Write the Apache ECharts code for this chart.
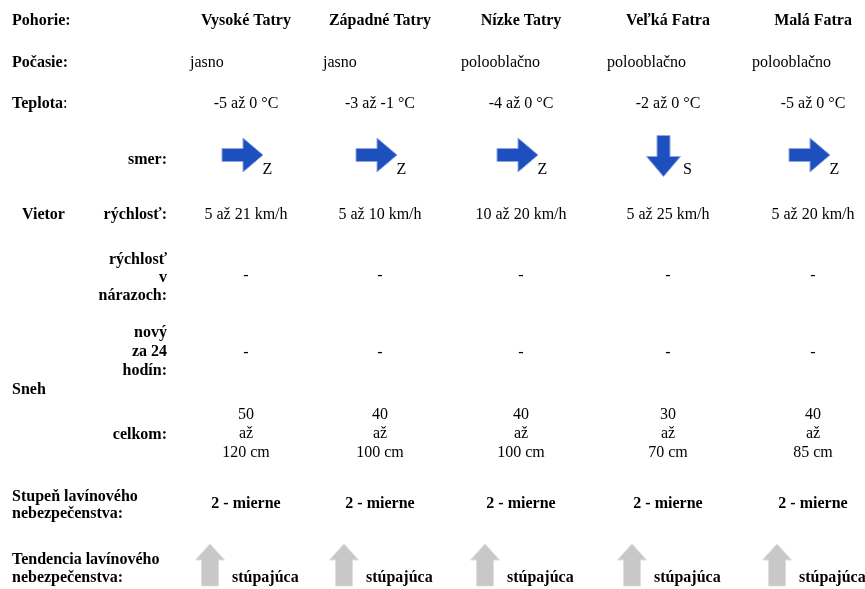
<!DOCTYPE html>
<html>
<head>
<meta charset="utf-8">
<title>Lavínová predpoveď</title>
<script src="https://cdn.jsdelivr.net/npm/echarts@6/dist/echarts.min.js"></script>
<style>
    html, body { margin: 0; padding: 0; background: #fff; }
    #chart { width: 865px; height: 589px; }
</style>
</head>
<body>
<div id="chart"></div>
<script>
// údaje tabuľky
const mountains = ['Vysoké Tatry', 'Západné Tatry', 'Nízke Tatry', 'Veľká Fatra', 'Malá Fatra'];
const weather = ['jasno', 'jasno', 'polooblačno', 'polooblačno', 'polooblačno'];
const tempMin = [-5, -3, -4, -2, -5];
const tempMax = [0, -1, 0, 0, 0];
const windDir = ['Z', 'Z', 'Z', 'S', 'Z'];
const windMin = [5, 5, 10, 5, 5];
const windMax = [21, 10, 20, 25, 20];
const windGusts = ['-', '-', '-', '-', '-'];
const newSnow = ['-', '-', '-', '-', '-'];
const snowMin = [50, 40, 40, 30, 40];
const snowMax = [120, 100, 100, 70, 85];
const dangerLevel = ['2 - mierne', '2 - mierne', '2 - mierne', '2 - mierne', '2 - mierne'];
const dangerTrend = ['stúpajúca', 'stúpajúca', 'stúpajúca', 'stúpajúca', 'stúpajúca'];

// rozloženie tabuľky (jednotky osí = px listu)
const colCenter = [246, 380, 521, 668, 813];
const colLeft = [190, 323, 461, 607, 752];
const labelLeft = 12;
const subLabelRight = 167;
const rowY = {
    head: 21, weather: 63, temp: 104, dir: 155, wind: 215,
    gust: 276, newSnow: 353, snow: 434, level: 504, trend: 565
};

const FONT = "'Liberation Serif', 'Times New Roman', serif";
const NORMAL = '16px ' + FONT;
const BOLD = 'bold 16px ' + FONT;

// smer vetra -> uhol šípky (Z = vietor od západu, šípka doprava)
const dirAngle = { Z: 0, S: 90, V: 180, J: -90 };

// bunky tabuľky
const cells = [];
mountains.forEach((m, i) => {
    cells.push({ col: i, row: 'head', kind: 'bold', text: m });
    cells.push({ col: i, row: 'weather', kind: 'left', text: weather[i] });
    cells.push({ col: i, row: 'temp', kind: 'center', text: tempMin[i] + ' až ' + tempMax[i] + ' °C' });
    cells.push({ col: i, row: 'dir', kind: 'wind', text: windDir[i] });
    cells.push({ col: i, row: 'wind', kind: 'center', text: windMin[i] + ' až ' + windMax[i] + ' km/h' });
    cells.push({ col: i, row: 'gust', kind: 'center', text: windGusts[i] });
    cells.push({ col: i, row: 'newSnow', kind: 'center', text: newSnow[i] });
    cells.push({ col: i, row: 'snow', kind: 'center', text: snowMin[i] + '\naž\n' + snowMax[i] + ' cm', lineHeight: 19 });
    cells.push({ col: i, row: 'level', kind: 'bold', text: dangerLevel[i] });
    cells.push({ col: i, row: 'trend', kind: 'trend', text: dangerTrend[i] });
});

// popisy riadkov
const labels = [
    { x: labelLeft, y: rowY.head, text: 'Pohorie:', align: 'left' },
    { x: labelLeft, y: rowY.weather, text: 'Počasie:', align: 'left' },
    { x: labelLeft, y: rowY.temp, text: '{b|Teplota}:', align: 'left', rich: true },
    { x: subLabelRight, y: 160, text: 'smer:', align: 'right' },
    { x: 22, y: rowY.wind, text: 'Vietor', align: 'left' },
    { x: subLabelRight, y: rowY.wind, text: 'rýchlosť:', align: 'right' },
    { x: subLabelRight, y: 278, text: 'rýchlosť\nv\nnárazoch:', align: 'right', lineHeight: 18 },
    { x: subLabelRight, y: 352, text: 'nový\nza 24\nhodín:', align: 'right', lineHeight: 19 },
    { x: labelLeft, y: 390, text: 'Sneh', align: 'left' },
    { x: subLabelRight, y: 435, text: 'celkom:', align: 'right' },
    { x: labelLeft, y: 505, text: 'Stupeň lavínového\nnebezpečenstva:', align: 'left', lineHeight: 17 },
    { x: labelLeft, y: 569, text: 'Tendencia lavínového\nnebezpečenstva:', align: 'left', lineHeight: 18 }
];

// šípka smerujúca doprava, otočená o uhol (stupne)
function arrowPoints(cx, cy, angle, len, headLen, halfHead, halfShaft) {
    const a = angle * Math.PI / 180;
    const c = Math.cos(a), s = Math.sin(a);
    const h = len / 2;
    const pts = [
        [-h, -halfShaft], [h - headLen, -halfShaft], [h - headLen, -halfHead],
        [h, 0], [h - headLen, halfHead], [h - headLen, halfShaft], [-h, halfShaft]
    ];
    return pts.map(p => [cx + p[0] * c - p[1] * s, cy + p[0] * s + p[1] * c]);
}

function textEl(x, y, text, font, align, extra) {
    return {
        type: 'text',
        style: Object.assign({
            text: text, x: x, y: y, font: font, fill: '#000',
            align: align, verticalAlign: 'middle'
        }, extra || {})
    };
}

function renderCell(params, api) {
    const cell = cells[params.dataIndex];
    const p = api.coord([colCenter[cell.col], rowY[cell.row]]);
    const cx = p[0], cy = p[1];
    if (cell.kind === 'bold') {
        return textEl(cx, cy, cell.text, BOLD, 'center');
    }
    if (cell.kind === 'left') {
        const l = api.coord([colLeft[cell.col], rowY[cell.row]]);
        return textEl(l[0], cy, cell.text, NORMAL, 'left');
    }
    if (cell.kind === 'center') {
        return textEl(cx, cy, cell.text, NORMAL, 'center', cell.lineHeight ? { lineHeight: cell.lineHeight } : null);
    }
    if (cell.kind === 'wind') {
        const ang = dirAngle[cell.text];
        const vertical = Math.abs(Math.sin(ang * Math.PI / 180)) > 0.5;
        const ax = cx - (vertical ? 4.5 : 3.5);
        const halfW = vertical ? 17 : 20.5;
        return {
            type: 'group',
            children: [
                {
                    type: 'polygon',
                    shape: { points: arrowPoints(ax, cy + (vertical ? 1 : 0), ang, 41, 20, 17, 6.5) },
                    style: { fill: '#1d4fbe', stroke: '#8fa7de', lineWidth: 1 }
                },
                textEl(ax + halfW + (vertical ? 2.5 : -0.5), cy + 15, cell.text, NORMAL, 'left')
            ]
        };
    }
    if (cell.kind === 'trend') {
        return {
            type: 'group',
            children: [
                {
                    type: 'polygon',
                    shape: { points: arrowPoints(cx - 36, cy, -90, 42, 16, 14.5, 8.5) },
                    style: { fill: '#c8c8c8', stroke: '#dedede', lineWidth: 1 }
                },
                textEl(cx - 14, cy + 13, cell.text, BOLD, 'left')
            ]
        };
    }
    return null;
}

function renderLabel(params, api) {
    const lb = labels[params.dataIndex];
    const p = api.coord([lb.x, lb.y]);
    const extra = {};
    if (lb.lineHeight) extra.lineHeight = lb.lineHeight;
    if (lb.rich) {
        extra.rich = { b: { font: BOLD } };
        return textEl(p[0], p[1], lb.text, NORMAL, lb.align, extra);
    }
    return textEl(p[0], p[1], lb.text, BOLD, lb.align, extra);
}

const myChart = echarts.init(document.getElementById('chart'));

const option = {
    backgroundColor: '#fff',
    animation: false,
    grid: { left: 0, right: 0, top: 0, bottom: 0 },
    xAxis: { type: 'value', min: 0, max: 865, show: false },
    yAxis: { type: 'value', min: 0, max: 589, inverse: true, show: false },
    series: [
        {
            type: 'custom',
            name: 'popisy',
            renderItem: renderLabel,
            data: labels.map(l => [l.x, l.y]),
            silent: true
        },
        {
            type: 'custom',
            name: 'bunky',
            renderItem: renderCell,
            data: cells.map(c => [colCenter[c.col], rowY[c.row]]),
            silent: true
        }
    ]
};

myChart.setOption(option);

window.addEventListener('resize', function() {
    myChart.resize();
});
</script>
</body>
</html>
